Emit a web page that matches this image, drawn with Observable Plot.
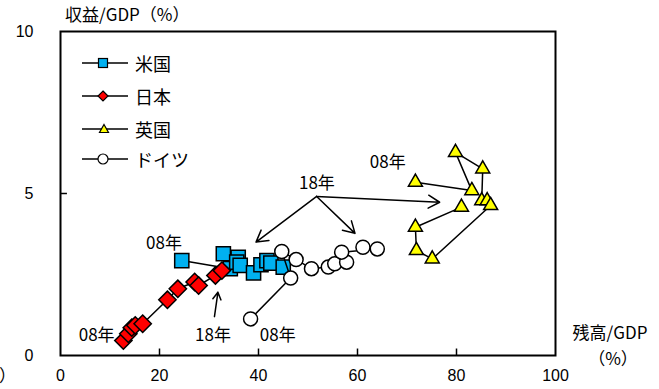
<!DOCTYPE html>
<html><head><meta charset="utf-8">
<script src="https://cdn.jsdelivr.net/npm/d3@7"></script>
<script src="https://cdn.jsdelivr.net/npm/@observablehq/plot@0.6"></script>
<style>
body{margin:0;background:#fff;}
#wrap{position:relative;width:659px;height:389px;background:#fff;}
#wrap svg{position:absolute;left:0;top:0;}
</style></head><body><div id="wrap"></div>
<script>
// ---- data (残高/GDP %, 収益/GDP %), 2008 -> 2018 ----
const usX = [24.5, 34.3, 32.9, 35.9, 35.6, 36.3, 39.0, 40.5, 41.7, 42.5, 45.0];
const usY = [2.93, 2.68, 3.14, 3.03, 2.88, 2.78, 2.55, 2.80, 2.93, 2.85, 2.73];
const jpX = [12.7, 13.7, 14.4, 15.1, 16.6, 21.6, 23.7, 27.1, 27.9, 31.3, 32.6];
const jpY = [0.46, 0.67, 0.86, 0.93, 0.98, 1.72, 2.06, 2.27, 2.16, 2.47, 2.62];
const ukX = [71.7, 83.1, 79.8, 85.3, 85.1, 86.2, 86.9, 75.1, 71.9, 71.7, 81.0];
const ukY = [5.35, 5.09, 6.27, 5.76, 4.78, 4.78, 4.63, 2.98, 3.24, 3.96, 4.58];
const deX = [38.4, 46.5, 44.7, 47.6, 50.7, 54.1, 55.4, 57.8, 56.8, 64.0, 61.1];
const deY = [1.13, 2.39, 3.21, 2.96, 2.68, 2.73, 2.83, 2.88, 3.19, 3.29, 3.34];
const seriesNames = ["米国", "日本", "英国", "ドイツ"];
const xTicks = [0, 20, 40, 60, 80, 100];
const yTicks = [0, 5, 10];
// annotations
const noteLabels = [
  {text: "08年", x: 20.9, y: 3.47},
  {text: "08年", x: 7.3, y: 0.63},
  {text: "18年", x: 30.8, y: 0.63},
  {text: "08年", x: 43.9, y: 0.62},
  {text: "08年", x: 66.1, y: 5.97},
  {text: "18年", x: 51.8, y: 5.31}
];
const noteArrows = [
  {x1: 51.75, y1: 4.91, x2: 39.5, y2: 3.50},
  {x1: 51.75, y1: 4.91, x2: 59.5, y2: 3.77},
  {x1: 51.75, y1: 4.91, x2: 76.6, y2: 4.73},
  {x1: 31.1, y1: 1.20, x2: 31.8, y2: 1.95}
];

const jfont = '"Noto Sans CJK JP", "Noto Sans", sans-serif';
const nfont = '"Liberation Sans", Arial, sans-serif';
const styles = [
  {symbol: "square", fill: "#00B0F0", r: 8},
  {symbol: "diamond2", fill: "#FF0000", r: 7.8},
  {symbol: "triangle", fill: "#FFFF00", r: 5.2},
  {symbol: "circle", fill: "#FFFFFF", r: 7}
];
const xs = [usX, jpX, ukX, deX], ys = [usY, jpY, ukY, deY];

const marks = [];
marks.push(Plot.ruleX(xTicks.slice(1, -1), {y1: 0, y2: 0.2, stroke: "black", strokeWidth: 1.5}));
marks.push(Plot.ruleY([5], {x1: 0, x2: 1.4, stroke: "black", strokeWidth: 1.5}));
seriesNames.forEach((name, k) => {
  const rows = xs[k].map((x, i) => ({x, y: ys[k][i], name}));
  const s = styles[k];
  marks.push(Plot.line(rows, {x: "x", y: "y", stroke: "black", strokeWidth: 1.5}));
  marks.push(Plot.dot(rows, {x: "x", y: "y", symbol: s.symbol, r: s.r, fill: s.fill, stroke: "black", strokeWidth: 1.5}));
});
marks.push(Plot.arrow(noteArrows, {x1: "x1", y1: "y1", x2: "x2", y2: "y2", bend: 0, headLength: 13, headAngle: 60, stroke: "black", strokeWidth: 1.5, inset: 0}));
marks.push(Plot.text(noteLabels, {x: "x", y: "y", text: "text", fontSize: 17, fontFamily: jfont, fill: "black"}));
marks.push(Plot.frame({stroke: "black", strokeWidth: 2}));
marks.push(Plot.axisX(xTicks, {tickSize: 0, tickPadding: 14, fontSize: 16, fontFamily: nfont, label: null, fill: "black"}));
marks.push(Plot.axisY(yTicks, {tickSize: 0, tickPadding: 27, fontSize: 16, fontFamily: nfont, label: null, fill: "black"}));

const chart = Plot.plot({
  width: 659, height: 389,
  marginLeft: 60, marginRight: 104, marginTop: 31, marginBottom: 34,
  x: {domain: [0, 100]},
  y: {domain: [0, 10]},
  style: {background: "white", color: "black"},
  marks
});
const wrap = document.getElementById("wrap");
wrap.appendChild(chart);

// ---- overlay: titles and legend ----
const ov = d3.select(wrap).append("svg").attr("width", 659).attr("height", 389).style("pointer-events", "none");
function txt(t, x, y, anchor, size) {
  ov.append("text").text(t).attr("x", x).attr("y", y).attr("text-anchor", anchor)
    .attr("dominant-baseline", "central").attr("font-family", jfont).attr("font-size", size).attr("fill", "black");
}
txt("収益/GDP（%）", 65, 13, "start", 17);
txt("残高/GDP", 610, 331, "middle", 17);
txt("（%）", 613, 357, "middle", 17);
txt("）", -1, 374, "start", 17);

const legY = [63, 96, 129, 159];
seriesNames.forEach((name, k) => {
  const y = legY[k];
  ov.append("line").attr("x1", 82).attr("x2", 128).attr("y1", y).attr("y2", y).attr("stroke", "black").attr("stroke-width", 1.5);
  const g = ov.append("g").attr("transform", `translate(103,${y})`);
  const st = styles[k];
  if (k === 0) g.append("rect").attr("x", -4.5).attr("y", -4.5).attr("width", 9).attr("height", 9);
  else if (k === 1) g.append("path").attr("d", "M0,-5L5,0L0,5L-5,0Z");
  else if (k === 2) g.append("path").attr("d", "M1,-4.5L5.5,3.5L-3.5,3.5Z");
  else g.append("circle").attr("r", 5);
  g.selectAll("*").attr("fill", st.fill).attr("stroke", "black").attr("stroke-width", 1.2);
  txt(name, 135, y, "start", 18);
});
</script></body></html>
